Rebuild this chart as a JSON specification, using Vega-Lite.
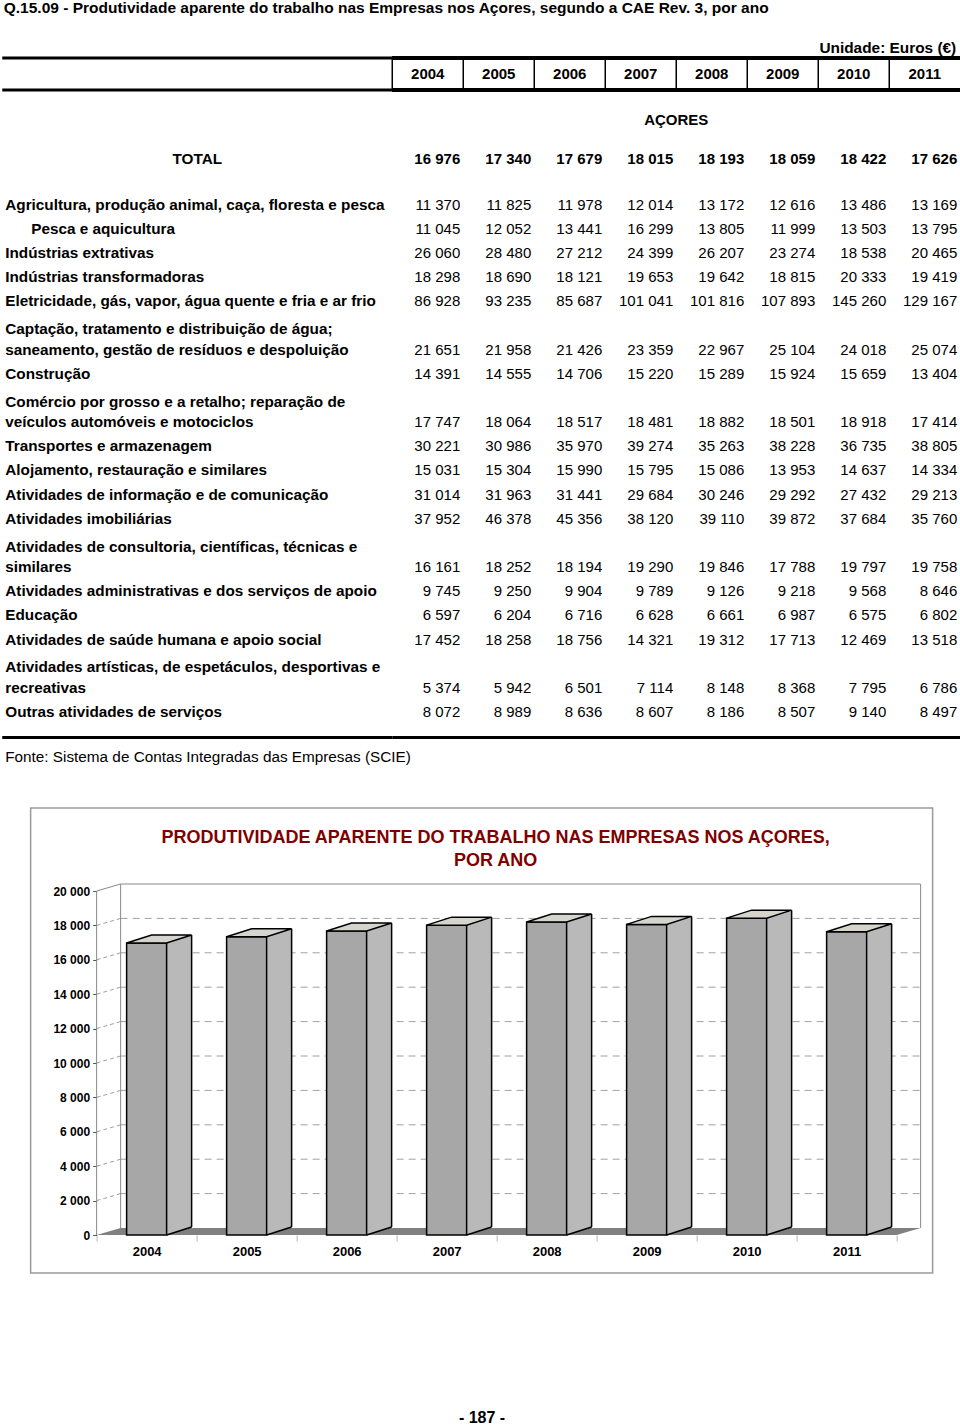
{
  "$schema": "https://vega.github.io/schema/vega-lite/v6.json",
  "padding": {"left": 0, "top": 1, "right": 2, "bottom": 0},
  "background": "white",
  "config": {
    "font": "Liberation Sans",
    "view": {"stroke": null},
    "locale": {"number": {"decimal": ",", "thousands": " ", "grouping": [3], "currency": ["", " €"]}},
    "text": {"color": "black", "font": "Liberation Sans"},
    "title": {"font": "Liberation Sans", "color": "black"},
    "axis": {"labelFont": "Liberation Sans"}
  },
  "title": {
    "text": "Q.15.09 - Produtividade aparente do trabalho nas Empresas nos Açores, segundo a CAE Rev. 3, por ano",
    "anchor": "start", "fontSize": 15.5, "fontWeight": "bold", "color": "black", "offset": 24.5, "dx": 3
  },
  "datasets": {
    "years": [{"year": "2004"}, {"year": "2005"}, {"year": "2006"}, {"year": "2007"}, {"year": "2008"}, {"year": "2009"}, {"year": "2010"}, {"year": "2011"}],
    "grid": [{"v": 2000}, {"v": 4000}, {"v": 6000}, {"v": 8000}, {"v": 10000}, {"v": 12000}, {"v": 14000}, {"v": 16000}, {"v": 18000}],
    "table": [
      {"row": "TOTAL", "2004": 16976, "2005": 17340, "2006": 17679, "2007": 18015, "2008": 18193, "2009": 18059, "2010": 18422, "2011": 17626},
      {"row": "Agricultura, produção animal, caça, floresta e pesca", "2004": 11370, "2005": 11825, "2006": 11978, "2007": 12014, "2008": 13172, "2009": 12616, "2010": 13486, "2011": 13169},
      {"row": "Pesca e aquicultura", "2004": 11045, "2005": 12052, "2006": 13441, "2007": 16299, "2008": 13805, "2009": 11999, "2010": 13503, "2011": 13795},
      {"row": "Indústrias extrativas", "2004": 26060, "2005": 28480, "2006": 27212, "2007": 24399, "2008": 26207, "2009": 23274, "2010": 18538, "2011": 20465},
      {"row": "Indústrias transformadoras", "2004": 18298, "2005": 18690, "2006": 18121, "2007": 19653, "2008": 19642, "2009": 18815, "2010": 20333, "2011": 19419},
      {"row": "Eletricidade, gás, vapor, água quente e fria e ar frio", "2004": 86928, "2005": 93235, "2006": 85687, "2007": 101041, "2008": 101816, "2009": 107893, "2010": 145260, "2011": 129167},
      {"row": "Captação, tratamento e distribuição de água;\nsaneamento, gestão de resíduos e despoluição", "2004": 21651, "2005": 21958, "2006": 21426, "2007": 23359, "2008": 22967, "2009": 25104, "2010": 24018, "2011": 25074},
      {"row": "Construção", "2004": 14391, "2005": 14555, "2006": 14706, "2007": 15220, "2008": 15289, "2009": 15924, "2010": 15659, "2011": 13404},
      {"row": "Comércio por grosso e a retalho; reparação de\nveículos automóveis e motociclos", "2004": 17747, "2005": 18064, "2006": 18517, "2007": 18481, "2008": 18882, "2009": 18501, "2010": 18918, "2011": 17414},
      {"row": "Transportes e armazenagem", "2004": 30221, "2005": 30986, "2006": 35970, "2007": 39274, "2008": 35263, "2009": 38228, "2010": 36735, "2011": 38805},
      {"row": "Alojamento, restauração e similares", "2004": 15031, "2005": 15304, "2006": 15990, "2007": 15795, "2008": 15086, "2009": 13953, "2010": 14637, "2011": 14334},
      {"row": "Atividades de informação e de comunicação", "2004": 31014, "2005": 31963, "2006": 31441, "2007": 29684, "2008": 30246, "2009": 29292, "2010": 27432, "2011": 29213},
      {"row": "Atividades imobiliárias", "2004": 37952, "2005": 46378, "2006": 45356, "2007": 38120, "2008": 39110, "2009": 39872, "2010": 37684, "2011": 35760},
      {"row": "Atividades de consultoria, científicas, técnicas e\nsimilares", "2004": 16161, "2005": 18252, "2006": 18194, "2007": 19290, "2008": 19846, "2009": 17788, "2010": 19797, "2011": 19758},
      {"row": "Atividades administrativas e dos serviços de apoio", "2004": 9745, "2005": 9250, "2006": 9904, "2007": 9789, "2008": 9126, "2009": 9218, "2010": 9568, "2011": 8646},
      {"row": "Educação", "2004": 6597, "2005": 6204, "2006": 6716, "2007": 6628, "2008": 6661, "2009": 6987, "2010": 6575, "2011": 6802},
      {"row": "Atividades de saúde humana e apoio social", "2004": 17452, "2005": 18258, "2006": 18756, "2007": 14321, "2008": 19312, "2009": 17713, "2010": 12469, "2011": 13518},
      {"row": "Atividades artísticas, de espetáculos, desportivas e\nrecreativas", "2004": 5374, "2005": 5942, "2006": 6501, "2007": 7114, "2008": 8148, "2009": 8368, "2010": 7795, "2011": 6786},
      {"row": "Outras atividades de serviços", "2004": 8072, "2005": 8989, "2006": 8636, "2007": 8607, "2008": 8186, "2009": 8507, "2010": 9140, "2011": 8497}
    ]
  },
  "spacing": 0,
  "center": true,
  "vconcat": [
    {
      "spacing": 0,
      "bounds": "flush",
      "hconcat": [
        {
          "width": 390, "height": 32,
          "data": {"values": [{}]},
          "layer": [
            {"mark": {"type": "rule", "color": "black", "strokeWidth": 3},
             "encoding": {"y": {"datum": "h", "type": "nominal", "bandPosition": 0, "scale": {"type": "band", "domain": ["h"], "paddingInner": 0, "paddingOuter": 0}, "axis": null}}},
            {"mark": {"type": "rule", "color": "black", "strokeWidth": 3},
             "encoding": {"y": {"datum": "h", "type": "nominal", "bandPosition": 1, "axis": null}}}
          ]
        },
        {
          "width": 568, "height": 32,
          "data": {"name": "years"},
          "layer": [
            {"mark": {"type": "rule", "color": "black", "strokeWidth": 1.5},
             "encoding": {"x": {"field": "year", "type": "ordinal", "bandPosition": 0, "scale": {"type": "band", "domain": ["2004", "2005", "2006", "2007", "2008", "2009", "2010", "2011"], "paddingInner": 0, "paddingOuter": 0}, "axis": null}}},
            {"mark": {"type": "text", "fontSize": 15, "fontWeight": "bold", "baseline": "middle", "align": "center"},
             "encoding": {
               "x": {"field": "year", "type": "ordinal", "axis": null},
               "y": {"datum": "h", "type": "nominal", "scale": {"type": "band", "domain": ["h"], "paddingInner": 0, "paddingOuter": 0}, "axis": null},
               "text": {"field": "year"}}},
            {"mark": {"type": "rule", "color": "black", "strokeWidth": 3},
             "encoding": {"y": {"datum": "h", "type": "nominal", "bandPosition": 0, "axis": null}}},
            {"mark": {"type": "rule", "color": "black", "strokeWidth": 3},
             "encoding": {"y": {"datum": "h", "type": "nominal", "bandPosition": 1, "axis": null}}},
            {"data": {"values": [{}]},
             "mark": {"type": "text", "text": "Unidade: Euros (€)", "fontSize": 15.4, "fontWeight": "bold", "align": "right", "baseline": "bottom", "dx": -4, "dy": -2},
             "encoding": {
               "x": {"datum": "2011", "type": "ordinal", "bandPosition": 1, "axis": null},
               "y": {"datum": "h", "type": "nominal", "bandPosition": 0, "axis": null}}}
          ]
        }
      ]
    },
    {
      "spacing": 0,
      "bounds": "flush",
      "hconcat": [
        {
          "width": 390, "height": 714.5,
          "data": {"name": "table"},
          "layer": [
            {"transform": [{"filter": "datum.row != 'TOTAL' && datum.row != 'Pesca e aquicultura' && indexof(datum.row, '\\n') < 0"}],
             "mark": {"type": "text", "fontSize": 15.3, "fontWeight": "bold", "align": "left", "baseline": "middle", "dx": 3},
             "encoding": {
               "x": {"datum": "stub", "type": "nominal", "bandPosition": 0, "scale": {"type": "band", "domain": ["stub"], "paddingInner": 0, "paddingOuter": 0}, "axis": null},
               "y": {"field": "row", "type": "nominal", "axis": null,
                     "scale": {"type": "band", "paddingInner": 0, "paddingOuter": 0.787, "align": 0.105,
                               "domain": ["_g0", "AÇORES", "TOTAL", "_g1",
                                          "Agricultura, produção animal, caça, floresta e pesca",
                                          "Pesca e aquicultura",
                                          "Indústrias extrativas",
                                          "Indústrias transformadoras",
                                          "Eletricidade, gás, vapor, água quente e fria e ar frio",
                                          "_g2",
                                          "Captação, tratamento e distribuição de água;\nsaneamento, gestão de resíduos e despoluição",
                                          "Construção",
                                          "_g3",
                                          "Comércio por grosso e a retalho; reparação de\nveículos automóveis e motociclos",
                                          "Transportes e armazenagem",
                                          "Alojamento, restauração e similares",
                                          "Atividades de informação e de comunicação",
                                          "Atividades imobiliárias",
                                          "_g4",
                                          "Atividades de consultoria, científicas, técnicas e\nsimilares",
                                          "Atividades administrativas e dos serviços de apoio",
                                          "Educação",
                                          "Atividades de saúde humana e apoio social",
                                          "_g5",
                                          "Atividades artísticas, de espetáculos, desportivas e\nrecreativas",
                                          "Outras atividades de serviços",
                                          "_g6",
                                          "Fonte"]}},
               "text": {"field": "row"}}},
            {"transform": [{"filter": "datum.row == 'Pesca e aquicultura'"}],
             "mark": {"type": "text", "fontSize": 15.3, "fontWeight": "bold", "align": "left", "baseline": "middle", "dx": 29},
             "encoding": {
               "x": {"datum": "stub", "type": "nominal", "bandPosition": 0, "axis": null},
               "y": {"field": "row", "type": "nominal", "axis": null},
               "text": {"field": "row"}}},
            {"transform": [{"filter": "indexof(datum.row, '\\n') >= 0"}],
             "mark": {"type": "text", "fontSize": 15.3, "fontWeight": "bold", "align": "left", "baseline": "middle", "dx": 3, "dy": -20.5, "lineBreak": "\n", "lineHeight": 20.5},
             "encoding": {
               "x": {"datum": "stub", "type": "nominal", "bandPosition": 0, "axis": null},
               "y": {"field": "row", "type": "nominal", "axis": null},
               "text": {"field": "row"}}},
            {"transform": [{"filter": "datum.row == 'TOTAL'"}],
             "mark": {"type": "text", "fontSize": 15.3, "fontWeight": "bold", "align": "center", "baseline": "middle"},
             "encoding": {
               "x": {"datum": "stub", "type": "nominal", "bandPosition": 0.5, "axis": null},
               "y": {"field": "row", "type": "nominal", "bandPosition": 0.6, "axis": null},
               "text": {"field": "row"}}},
            {"data": {"values": [{}]},
             "mark": {"type": "rule", "color": "black", "strokeWidth": 3},
             "encoding": {"y": {"datum": "_g6", "type": "nominal", "bandPosition": 0.556, "axis": null}}},
            {"data": {"values": [{}]},
             "mark": {"type": "text", "text": "Fonte: Sistema de Contas Integradas das Empresas (SCIE)", "fontSize": 15.3, "align": "left", "baseline": "middle", "dx": 3},
             "encoding": {
               "x": {"datum": "stub", "type": "nominal", "bandPosition": 0, "axis": null},
               "y": {"datum": "Fonte", "type": "nominal", "bandPosition": 0.38, "axis": null}}}
          ]
        },
        {
          "width": 568, "height": 714.5,
          "data": {"name": "table"},
          "layer": [
            {"transform": [{"filter": "datum.row != 'TOTAL'"}, {"fold": ["2004", "2005", "2006", "2007", "2008", "2009", "2010", "2011"], "as": ["year", "value"]}],
             "mark": {"type": "text", "fontSize": 15, "align": "right", "baseline": "middle", "dx": -3},
             "encoding": {
               "x": {"field": "year", "type": "ordinal", "bandPosition": 1, "axis": null,
                     "scale": {"type": "band", "domain": ["2004", "2005", "2006", "2007", "2008", "2009", "2010", "2011"], "paddingInner": 0, "paddingOuter": 0}},
               "y": {"field": "row", "type": "nominal", "axis": null,
                     "scale": {"type": "band", "paddingInner": 0, "paddingOuter": 0.787, "align": 0.105,
                               "domain": ["_g0", "AÇORES", "TOTAL", "_g1",
                                          "Agricultura, produção animal, caça, floresta e pesca",
                                          "Pesca e aquicultura",
                                          "Indústrias extrativas",
                                          "Indústrias transformadoras",
                                          "Eletricidade, gás, vapor, água quente e fria e ar frio",
                                          "_g2",
                                          "Captação, tratamento e distribuição de água;\nsaneamento, gestão de resíduos e despoluição",
                                          "Construção",
                                          "_g3",
                                          "Comércio por grosso e a retalho; reparação de\nveículos automóveis e motociclos",
                                          "Transportes e armazenagem",
                                          "Alojamento, restauração e similares",
                                          "Atividades de informação e de comunicação",
                                          "Atividades imobiliárias",
                                          "_g4",
                                          "Atividades de consultoria, científicas, técnicas e\nsimilares",
                                          "Atividades administrativas e dos serviços de apoio",
                                          "Educação",
                                          "Atividades de saúde humana e apoio social",
                                          "_g5",
                                          "Atividades artísticas, de espetáculos, desportivas e\nrecreativas",
                                          "Outras atividades de serviços",
                                          "_g6",
                                          "Fonte"]}},
               "text": {"field": "value", "type": "quantitative", "format": ",d"}}},
            {"transform": [{"filter": "datum.row == 'TOTAL'"}, {"fold": ["2004", "2005", "2006", "2007", "2008", "2009", "2010", "2011"], "as": ["year", "value"]}],
             "mark": {"type": "text", "fontSize": 15, "fontWeight": "bold", "align": "right", "baseline": "middle", "dx": -3},
             "encoding": {
               "x": {"field": "year", "type": "ordinal", "bandPosition": 1, "axis": null},
               "y": {"field": "row", "type": "nominal", "bandPosition": 0.6, "axis": null},
               "text": {"field": "value", "type": "quantitative", "format": ",d"}}},
            {"data": {"values": [{}]},
             "mark": {"type": "text", "text": "AÇORES", "fontSize": 15, "fontWeight": "bold", "align": "center", "baseline": "middle"},
             "encoding": {
               "x": {"datum": "2008", "type": "ordinal", "bandPosition": 0, "axis": null},
               "y": {"datum": "AÇORES", "type": "nominal", "bandPosition": 0.0, "axis": null}}},
            {"data": {"values": [{}]},
             "mark": {"type": "rule", "color": "black", "strokeWidth": 3},
             "encoding": {"y": {"datum": "_g6", "type": "nominal", "bandPosition": 0.556, "axis": null}}}
          ]
        }
      ]
    },
    {
      "width": 902, "height": 465,
      "view": {"stroke": "#9a9a9a", "strokeWidth": 1.5},
      "title": {
        "text": ["PRODUTIVIDADE APARENTE DO TRABALHO NAS EMPRESAS NOS AÇORES,", "POR ANO"],
        "color": "#800000", "fontSize": 18, "fontWeight": "bold", "anchor": "middle", "frame": "group",
        "offset": -62, "dx": 14, "lineHeight": 23
      },
      "layer": [
        {"data": {"name": "table"},
         "transform": [{"filter": "datum.row == 'TOTAL'"}, {"fold": ["2004", "2005", "2006", "2007", "2008", "2009", "2010", "2011"], "as": ["year", "value"]}],
         "mark": {"type": "bar", "width": 40, "opacity": 0},
         "encoding": {
           "x": {"field": "year", "type": "ordinal",
                 "scale": {"type": "band", "domain": ["2004", "2005", "2006", "2007", "2008", "2009", "2010", "2011"], "paddingInner": 0, "paddingOuter": 0.51, "align": 0.647},
                 "axis": {"orient": "bottom", "offset": -38, "domain": false, "tickBand": "extent", "tickSize": 6, "tickColor": "#b5b5b5", "labelPadding": 4, "labelFontSize": 13, "labelFontWeight": "bold", "labelColor": "black", "labelAngle": 0, "title": null, "grid": false}},
           "y": {"field": "value", "type": "quantitative",
                 "scale": {"type": "linear", "domain": [-2209.3, 24825.6], "nice": false, "zero": false},
                 "axis": {"orient": "left", "offset": -66, "values": [0, 2000, 4000, 6000, 8000, 10000, 12000, 14000, 16000, 18000, 20000], "format": ",d", "domain": false, "grid": false, "tickSize": 4, "tickColor": "#555555", "labelPadding": 3, "labelFontSize": 12, "labelFontWeight": "bold", "labelColor": "black", "title": null}},
           "y2": {"datum": 0}}},
        {"data": {"name": "grid"},
         "mark": {"type": "rule", "color": "#a0a0a0", "strokeDash": [7, 5], "strokeWidth": 1, "xOffset": 24, "x2Offset": 24, "yOffset": -7},
         "encoding": {
           "x": {"datum": "2004", "type": "ordinal", "bandPosition": 0},
           "x2": {"datum": "2011", "bandPosition": 1},
           "y": {"field": "v", "type": "quantitative"}}},
        {"data": {"name": "grid"},
         "mark": {"type": "rule", "color": "#a0a0a0", "strokeDash": [4, 3], "strokeWidth": 1, "x2Offset": 24, "y2Offset": -7},
         "encoding": {
           "x": {"datum": "2004", "type": "ordinal", "bandPosition": 0},
           "x2": {"datum": "2004", "bandPosition": 0},
           "y": {"field": "v", "type": "quantitative"},
           "y2": {"field": "v"}}},
        {"data": {"values": [{}]},
         "mark": {"type": "rule", "color": "#8a8a8a", "strokeWidth": 1, "xOffset": 24, "yOffset": -7, "y2Offset": -7},
         "encoding": {
           "x": {"datum": "2004", "type": "ordinal", "bandPosition": 0},
           "y": {"datum": 0, "type": "quantitative"},
           "y2": {"datum": 20000}}},
        {"data": {"values": [{}]},
         "mark": {"type": "rule", "color": "#8a8a8a", "strokeWidth": 1, "xOffset": 24, "yOffset": -7, "y2Offset": -7},
         "encoding": {
           "x": {"datum": "2011", "type": "ordinal", "bandPosition": 1},
           "y": {"datum": 0, "type": "quantitative"},
           "y2": {"datum": 20000}}},
        {"data": {"values": [{}]},
         "mark": {"type": "rule", "color": "#8a8a8a", "strokeWidth": 1, "xOffset": 24, "x2Offset": 24, "yOffset": -7},
         "encoding": {
           "x": {"datum": "2004", "type": "ordinal", "bandPosition": 0},
           "x2": {"datum": "2011", "bandPosition": 1},
           "y": {"datum": 20000, "type": "quantitative"}}},
        {"data": {"values": [{}]},
         "mark": {"type": "rule", "color": "#8a8a8a", "strokeWidth": 1, "x2Offset": 24, "y2Offset": -7},
         "encoding": {
           "x": {"datum": "2004", "type": "ordinal", "bandPosition": 0},
           "x2": {"datum": "2004", "bandPosition": 0},
           "y": {"datum": 20000, "type": "quantitative"},
           "y2": {"datum": 20000}}},
        {"data": {"values": [{}]},
         "mark": {"type": "rule", "color": "#8a8a8a", "strokeWidth": 1},
         "encoding": {
           "x": {"datum": "2004", "type": "ordinal", "bandPosition": 0},
           "y": {"datum": 0, "type": "quantitative"},
           "y2": {"datum": 20000}}},
        {"data": {"values": [{}]},
         "mark": {"type": "point", "shape": "M0 0 L8 0 L8.24 -0.07 L0.24 -0.07 Z", "size": 40000, "filled": true, "fill": "#808080", "strokeWidth": 0, "opacity": 1},
         "encoding": {
           "x": {"datum": "2004", "type": "ordinal", "bandPosition": 0},
           "y": {"datum": 0, "type": "quantitative"}}},
        {"data": {"name": "table"},
         "transform": [{"filter": "datum.row == 'TOTAL'"}, {"fold": ["2004", "2005", "2006", "2007", "2008", "2009", "2010", "2011"], "as": ["year", "value"]}],
         "mark": {"type": "bar", "width": 25, "xOffset": 32.5, "yOffset": -8, "y2Offset": -8, "fill": "#b9b9b9", "strokeWidth": 0},
         "encoding": {
           "x": {"field": "year", "type": "ordinal"},
           "y": {"field": "value", "type": "quantitative"},
           "y2": {"datum": 0}}},
        {"data": {"name": "table"},
         "transform": [{"filter": "datum.row == 'TOTAL'"}, {"fold": ["2004", "2005", "2006", "2007", "2008", "2009", "2010", "2011"], "as": ["year", "value"]}],
         "mark": {"type": "point", "shape": "M0.4 0 L0.9 -0.16 L0.4 -0.16 Z", "size": 10000, "filled": true, "fill": "#b9b9b9", "strokeWidth": 0, "opacity": 1},
         "encoding": {
           "x": {"field": "year", "type": "ordinal"},
           "y": {"datum": 0, "type": "quantitative"}}},
        {"data": {"name": "table"},
         "transform": [{"filter": "datum.row == 'TOTAL'"}, {"fold": ["2004", "2005", "2006", "2007", "2008", "2009", "2010", "2011"], "as": ["year", "value"]}],
         "mark": {"type": "rule", "color": "black", "strokeWidth": 1.5, "xOffset": 45, "yOffset": -8, "y2Offset": -8},
         "encoding": {
           "x": {"field": "year", "type": "ordinal"},
           "y": {"field": "value", "type": "quantitative"},
           "y2": {"datum": 0}}},
        {"data": {"name": "table"},
         "transform": [{"filter": "datum.row == 'TOTAL'"}, {"fold": ["2004", "2005", "2006", "2007", "2008", "2009", "2010", "2011"], "as": ["year", "value"]}],
         "mark": {"type": "point", "shape": "M0.4 0 L0.9 -0.16", "size": 10000, "filled": false, "stroke": "black", "strokeWidth": 1.5, "opacity": 1},
         "encoding": {
           "x": {"field": "year", "type": "ordinal"},
           "y": {"datum": 0, "type": "quantitative"}}},
        {"data": {"name": "table"},
         "transform": [{"filter": "datum.row == 'TOTAL'"}, {"fold": ["2004", "2005", "2006", "2007", "2008", "2009", "2010", "2011"], "as": ["year", "value"]}],
         "mark": {"type": "bar", "width": 40, "fill": "#a7a7a7", "stroke": "black", "strokeWidth": 1.5},
         "encoding": {
           "x": {"field": "year", "type": "ordinal"},
           "y": {"field": "value", "type": "quantitative"},
           "y2": {"datum": 0}}},
        {"data": {"name": "table"},
         "transform": [{"filter": "datum.row == 'TOTAL'"}, {"fold": ["2004", "2005", "2006", "2007", "2008", "2009", "2010", "2011"], "as": ["year", "value"]}],
         "mark": {"type": "point", "shape": "M-0.4 0 L0.4 0 L0.9 -0.16 L0.1 -0.16 Z", "size": 10000, "filled": true, "fill": "#d5d5ce", "stroke": "black", "strokeWidth": 1.5, "opacity": 1},
         "encoding": {
           "x": {"field": "year", "type": "ordinal"},
           "y": {"field": "value", "type": "quantitative"}}}
      ]
    },
    {
      "width": 958, "height": 152,
      "data": {"values": [{"page": "- 187 -"}]},
      "mark": {"type": "text", "fontSize": 16, "fontWeight": "bold", "baseline": "bottom", "align": "center"},
      "encoding": {
        "y": {"datum": "pg", "type": "nominal", "bandPosition": 1, "scale": {"type": "band", "domain": ["pg"], "paddingInner": 0, "paddingOuter": 0}, "axis": null},
        "text": {"field": "page"}
      }
    }
  ]
}
